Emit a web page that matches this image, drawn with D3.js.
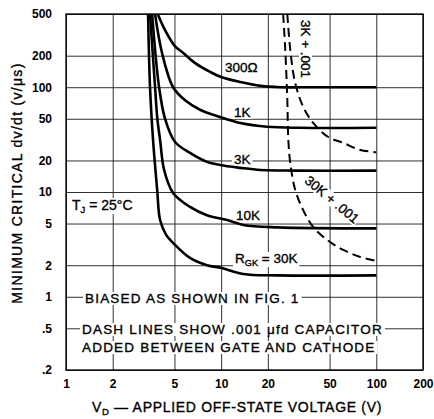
<!DOCTYPE html>
<html>
<head>
<meta charset="utf-8">
<script src="https://cdn.jsdelivr.net/npm/d3@7.9.0/dist/d3.min.js"></script>
<style>
  body { margin: 0; background: #fff; }
  svg { font-family: "Liberation Sans", Arial, Helvetica, sans-serif; }
</style>
</head>
<body>
<svg id="chart" width="434" height="419"></svg>
<script>
// axis ticks
const xTicks = [1, 2, 5, 10, 20, 50, 100, 200];
const xTickLabels = ["1", "2", "5", "10", "20", "50", "100", "200"];
const yTicks = [0.2, 0.5, 1, 2, 5, 10, 20, 50, 100, 200, 500];
const yTickLabels = [".2", ".5", "1", "2", "5", "10", "20", "50", "100", "200", "500"];

// solid curves (gate-cathode resistor only): V_D (V) vs dv/dt (V/us)
const volts300 = [3.9, 4.35, 5.0, 5.7, 6.8, 8.5, 10, 13.3, 18, 24, 40, 100];
const rate300  = [500, 350, 250, 212, 170, 140, 125, 112, 103, 100, 100, 100];

const volts1k = [3.75, 4.16, 4.9, 5.86, 7.3, 9.85, 13.3, 19.8, 32, 100];
const rate1k  = [500, 212, 100, 75, 61, 52, 45.6, 42, 41, 41];

const volts3k = [3.59, 3.98, 4.35, 5.05, 6.3, 8.1, 9.85, 13.3, 18, 30, 100];
const rate3k  = [500, 100, 50, 30, 23.6, 19.4, 18.1, 17, 16.2, 16, 16];

const volts10k = [3.48, 3.75, 3.88, 4.04, 4.29, 4.9, 6.3, 8.1, 10.9, 13.9, 23, 100];
const rate10k  = [500, 100, 50, 31.4, 16.2, 9.8, 7.2, 6.0, 5.4, 4.85, 4.6, 4.5];

const volts30k = [3.38, 3.48, 3.64, 3.87, 4.04, 4.42, 4.9, 6.3, 8.1, 10.1, 13.9, 23, 100];
const rate30k  = [500, 100, 31.4, 10.5, 5.4, 3.9, 3.27, 2.35, 2.0, 1.88, 1.65, 1.6, 1.6];

// dashed curves (.001 uF capacitor added)
const volts3kCap = [26.7, 27.9, 30, 33.8, 39.2, 49, 61.3, 78.8, 100];
const rate3kCap  = [500, 227, 110, 65, 45.6, 33.5, 29.4, 25.2, 24];

const volts30kCap = [25.1, 25.9, 26.7, 27.1, 27.9, 30, 33.8, 39.2, 48.2, 61.3, 78.8, 100];
const rate30kCap  = [500, 227, 75.6, 31.4, 18.9, 10.5, 6.7, 4.64, 3.49, 2.8, 2.4, 2.2];

const svg = d3.select("#chart");
const plotL = 66, plotR = 423, plotT = 14, plotB = 370;

const x = d3.scaleLog().domain([1, 200]).range([plotL, plotR]);
const y = d3.scaleLog().domain([0.2, 500]).range([plotB, plotT]);

// --- grid + tick labels via axes ---
const xAxis = svg.append("g")
  .attr("transform", `translate(0,${plotB})`)
  .call(d3.axisBottom(x)
    .tickValues(xTicks)
    .tickSize(-(plotB - plotT))
    .tickPadding(9)
    .tickFormat((d, i) => xTickLabels[i]));

const yAxis = svg.append("g")
  .attr("transform", `translate(${plotL},0)`)
  .call(d3.axisLeft(y)
    .tickValues(yTicks)
    .tickSize(-(plotR - plotL))
    .tickPadding(14)
    .tickFormat((d, i) => yTickLabels[i]));

[xAxis, yAxis].forEach(ax => {
  ax.select(".domain").remove();
  ax.selectAll(".tick line").attr("stroke", "#1a1a1a").attr("stroke-width", 0.9);
  ax.selectAll(".tick text")
    .attr("fill", "#000")
    .style("font-size", "12px")
    .style("font-weight", "bold");
});

// frame
svg.append("rect")
  .attr("x", plotL).attr("y", plotT)
  .attr("width", plotR - plotL).attr("height", plotB - plotT)
  .attr("fill", "none").attr("stroke", "#000").attr("stroke-width", 1.3);

// layers: label backgrounds sit under the curves, label text on top
const bgLayer = svg.append("g");
const curveLayer = svg.append("g");
const textLayer = svg.append("g");

svg.append("clipPath").attr("id", "plot-clip")
  .append("rect")
  .attr("x", plotL).attr("y", plotT)
  .attr("width", plotR - plotL).attr("height", plotB - plotT);
curveLayer.attr("clip-path", "url(#plot-clip)");

const series = [
  { v: volts300, r: rate300, dashed: false },
  { v: volts1k, r: rate1k, dashed: false },
  { v: volts3k, r: rate3k, dashed: false },
  { v: volts10k, r: rate10k, dashed: false },
  { v: volts30k, r: rate30k, dashed: false },
  { v: volts3kCap, r: rate3kCap, dashed: true },
  { v: volts30kCap, r: rate30kCap, dashed: true }
];

const line = d3.line()
  .x(d => x(d[0]))
  .y(d => y(d[1]))
  .curve(d3.curveCatmullRom.alpha(0.5));

series.forEach(s => {
  const pts = s.v.map((v, i) => [v, s.r[i]]);
  curveLayer.append("path")
    .attr("d", line(pts))
    .attr("fill", "none")
    .attr("stroke", "#000")
    .attr("stroke-width", s.dashed ? 2 : 2.6)
    .attr("stroke-dasharray", s.dashed ? "9,5" : null);
});

// --- text labels with white backing (they break the grid lines) ---
function label(parts, px, py, opts = {}) {
  const size = opts.size || 13.5;
  const transform = `translate(${px},${py}) rotate(${opts.rotate || 0})`;
  const g = textLayer.append("g").attr("transform", transform);
  const t = g.append("text")
    .attr("text-anchor", opts.anchor || "start")
    .style("font-size", size + "px")
    .style("letter-spacing", (opts.spacing || 0) + "px")
    .attr("fill", "#000")
    .attr("stroke", "#000")
    .attr("stroke-width", 0.35);
  let down = false;
  parts.forEach(p => {
    const isSub = Array.isArray(p);
    const span = t.append("tspan").text(isSub ? p[0] : p);
    if (isSub) { span.style("font-size", (size * 0.68) + "px").attr("dy", 3); down = true; }
    else if (down) { span.attr("dy", -3); down = false; }
  });
  if (opts.bg !== false) {
    const b = t.node().getBBox();
    const pad = opts.pad == null ? 2 : opts.pad;
    bgLayer.append("g").attr("transform", transform)
      .append("rect")
      .attr("x", b.x - pad).attr("y", b.y + 1)
      .attr("width", b.width + pad * 2).attr("height", b.height - 2)
      .attr("fill", "#fff");
  }
}

label(["300Ω"], 225, 72);
label(["1K"], 234, 117);
label(["3K"], 234, 164);
label(["10K"], 236, 220);
label(["R", ["GK"], " = 30K"], 235, 263);
label(["T", ["J"], " = 25°C"], 72, 210, { size: 14 });
label(["3K + .001"], 301, 49, { rotate: 90, anchor: "middle", pad: 1 });
label(["30K + .001"], 329, 203, { rotate: 40, anchor: "middle", pad: 1 });

label(["BIASED AS SHOWN IN FIG. 1"], 85, 303, { spacing: 1.2 });
label(["DASH LINES SHOW .001 μfd CAPACITOR"], 82, 334, { spacing: 1.2 });
label(["ADDED BETWEEN GATE AND CATHODE"], 82, 352, { spacing: 1.2 });

// axis titles
label(["V", ["D"], " — APPLIED OFF-STATE VOLTAGE (V)"], 237, 412,
  { anchor: "middle", size: 14, spacing: 0.7, bg: false });
label(["MINIMUM CRITICAL dv/dt (v/μs)"], 22, 183,
  { anchor: "middle", size: 14, spacing: 1.3, rotate: -90, bg: false });
</script>
</body>
</html>
